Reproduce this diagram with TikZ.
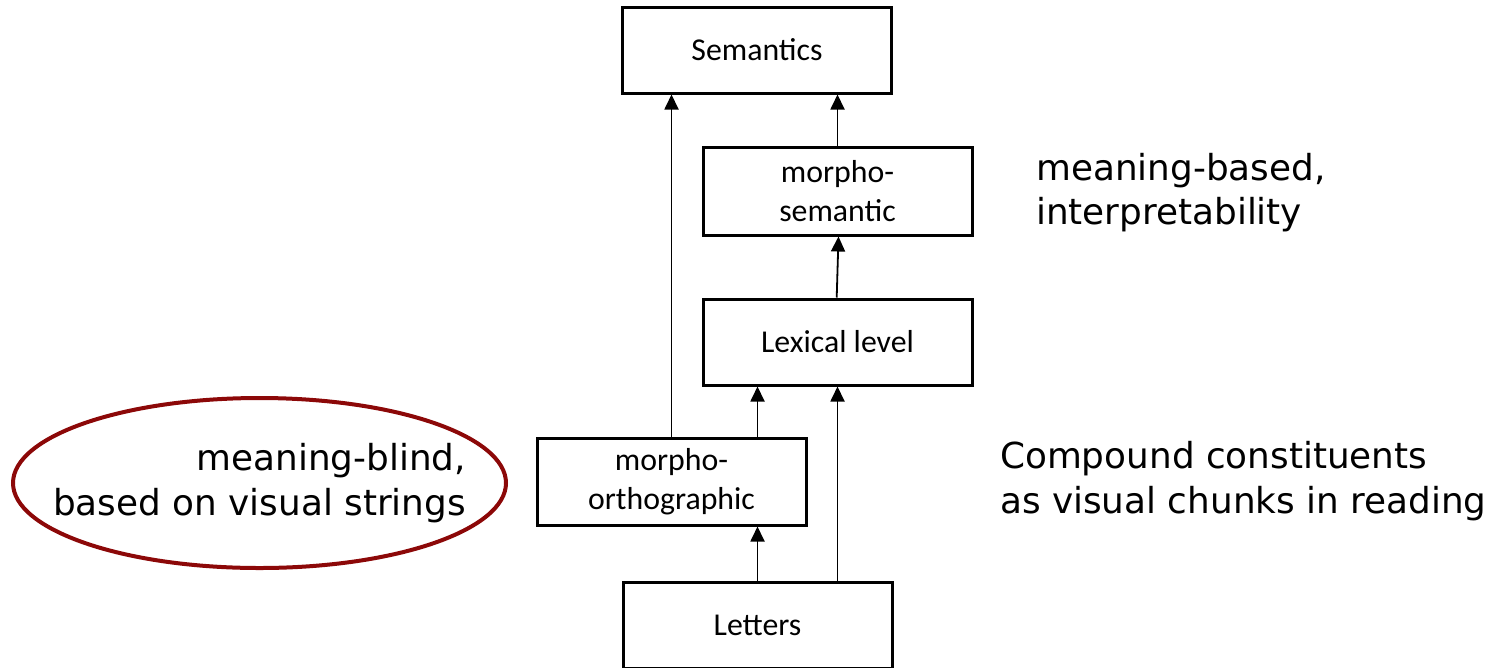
\documentclass[tikz,border=0pt]{standalone}
\usepackage{fontspec}
\newfontfamily\boxfont{Carlito}
\newfontfamily\notefont{DejaVu Sans}
\usetikzlibrary{arrows.meta}
\definecolor{ringred}{RGB}{140,8,8}
\tikzset{
  level/.style={draw=black, line width=3pt, minimum width=269pt, inner sep=0pt,
    font=\boxfont\fontsize{31.8}{39}\selectfont, align=center},
  arr/.style={line width=1.8pt, -{Triangle[length=15pt,width=14pt]}},
  note/.style={font=\notefont\fontsize{35.8}{45}\selectfont, inner sep=0pt},
}
\begin{document}
\begin{tikzpicture}[x=1pt, y=-1pt]
  \useasboundingbox (0,0) rectangle (1495,667);

  % processing levels
  \node[level, minimum height=86pt] (sem) at (757,50) {Semantics};
  \node[level, minimum height=88pt] (ms) at (837.5,191) {morpho-\\semantic};
  \node[level, minimum height=86pt] (lex) at (837.5,342) {Lexical level};
  \node[level, minimum height=87pt] (mo) at (671.5,481.5) {morpho-\\orthographic};
  \node[level, minimum height=86pt] (let) at (757.5,625) {Letters};

  % connections between levels
  \draw[arr] (mo.north) -- (mo.north |- sem.south);
  \draw[arr] (ms.north) -- (ms.north |- sem.south);
  \draw[arr] ([xshift=-0.8pt]lex.north) -- ([xshift=1pt]ms.south);
  \draw[arr] (mo.north -| let.north) -- (lex.south -| let.north);
  \draw[arr] (let.north) -- (mo.south -| let.north);
  \draw[arr] (let.north -| lex.north) -- (lex.south);

  % annotations
  \draw[ringred, line width=4pt] (259.5,483) ellipse [x radius=246.5, y radius=85];
  \node[note, anchor=base east] (mb1) at (466,470) {meaning-blind,};
  \node[note, anchor=base east] (mb2) at (466,515) {based on visual strings};
  \node[note, anchor=base west] (mm1) at (1036,180) {meaning-based,};
  \node[note, anchor=base west] (mm2) at (1036,224) {interpretability};
  \node[note, anchor=base west] (cc1) at (1000,468) {Compound constituents};
  \node[note, anchor=base west] (cc2) at (1000,513) {as visual chunks in reading};
\end{tikzpicture}
\end{document}
